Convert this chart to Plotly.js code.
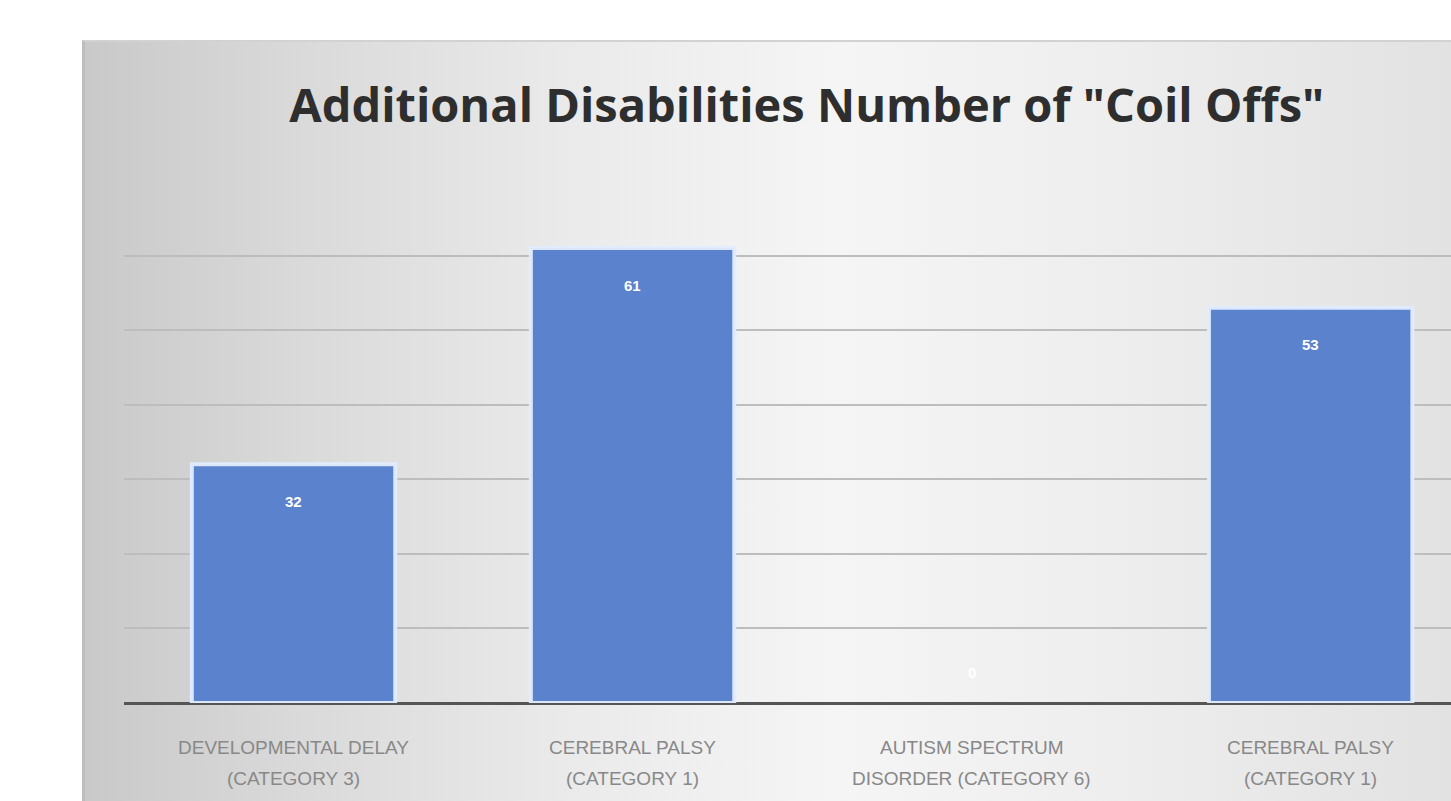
<!DOCTYPE html>
<html>
<head>
<meta charset="utf-8">
<script src="https://cdn.plot.ly/plotly-3.0.1.min.js"></script>
<style>
  html, body { margin: 0; padding: 0; background: #ffffff; overflow: hidden; }
  #bg { position: absolute; left: 82px; top: 40px; width: 1369px; height: 761px;
        background: linear-gradient(to right, #c9c9c9 0%, #d9d9d9 15%, #eaeaea 35%, #f5f5f5 55%, #eeeeee 75%, #e2e2e2 100%);
        border-left: 3px solid #bdbdbd; border-top: 2px solid #d2d2d2; box-sizing: border-box; }
  #chart { position: absolute; left: 0; top: 0; width: 1451px; height: 801px; }
</style>
</head>
<body>
<div id="bg"></div>
<div id="chart"></div>
<script>
const categoriesLine1 = ["DEVELOPMENTAL DELAY", "CEREBRAL PALSY", "AUTISM SPECTRUM", "CEREBRAL PALSY"];
const categoriesLine2 = ["(CATEGORY 3)", "(CATEGORY 1)", "DISORDER (CATEGORY 6)", "(CATEGORY 1)"];
const coilOffs = [32, 61, 0, 53];
const positions = [0, 1, 2, 3];

const bar = {
  type: "bar",
  x: positions,
  y: coilOffs,
  width: 0.6,
  marker: {
    color: "#5b82cc",
    line: { color: "rgba(225,236,255,0.95)", width: coilOffs.map(v => v > 0 ? 4 : 0) }
  },
  hoverinfo: "none"
};

const annotations = [];
positions.forEach((p, i) => {
  const v = coilOffs[i];
  annotations.push({
    x: p, y: v, xref: "x", yref: "y", text: String(v), showarrow: false,
    yshift: v > 0 ? -37 : 31,
    font: { family: "Liberation Sans, Arial", size: 15, color: "#ffffff", weight: "bold" }
  });
  annotations.push({
    x: p, y: -0.086, xref: "x", yref: "paper", text: categoriesLine1[i], showarrow: false,
    yanchor: "middle", font: { family: "Liberation Sans, Arial", size: 19, color: "#888888" }
  });
  annotations.push({
    x: p, y: -0.144, xref: "x", yref: "paper", text: categoriesLine2[i], showarrow: false,
    yanchor: "middle", font: { family: "Liberation Sans, Arial", size: 19, color: "#888888" }
  });
});

const layout = {
  width: 1451, height: 801,
  margin: { l: 124, r: 0, t: 181, b: 98 },
  paper_bgcolor: "rgba(0,0,0,0)",
  plot_bgcolor: "rgba(0,0,0,0)",
  showlegend: false,
  title: {
    text: "Additional Disabilities Number of \"Coil Offs\"",
    x: 0.556, xanchor: "center", y: 0.868, yanchor: "middle",
    font: { family: "Open Sans, Liberation Sans, Arial", size: 47, color: "#2e2e2e", weight: "bold" }
  },
  xaxis: {
    range: [-0.5, 3.414], showticklabels: false, showgrid: false, zeroline: false,
    showline: false, fixedrange: true
  },
  yaxis: {
    range: [0, 70], dtick: 10, showticklabels: false, showgrid: true,
    gridcolor: "#bdbdbd", gridwidth: 2, zeroline: true, zerolinecolor: "#555555",
    zerolinewidth: 3, showline: false, fixedrange: true
  },
  annotations: annotations
};

Plotly.newPlot("chart", [bar], layout, { displayModeBar: false, staticPlot: true });
</script>
</body>
</html>
